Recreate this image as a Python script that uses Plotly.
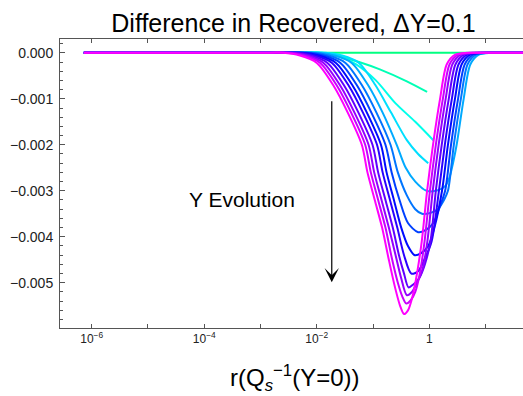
import colorsys
import plotly.graph_objects as go

# x values are log10 of r in units of Qs^-1(Y=0); y values are the differences.
# curve z: the trivially vanishing first step
z_logr = [-6.14, 1.7]
z_val = [0.0, 0.0]

c0_logr = [-6.14, -2.4, -2.0, -1.6, -1.25, -0.88, -0.40, -0.04]
c0_val = [0, 0, 0, -0.00008, -0.0002, -0.00036, -0.00062, -0.00085]

c1_logr = [-6.14, -2.3, -1.9, -1.6, -1.3, -0.95, -0.6, -0.25, 0.07]
c1_val = [0, 0, 0, -0.00008, -0.00025, -0.0006, -0.0011, -0.0015, -0.0019]

c2_logr = [-6.14, -2.25, -1.85, -1.55, -1.25, -0.96, -0.68, -0.40, -0.20, -0.02]
c2_val = [0, 0, 0, -0.00006, -0.00022, -0.0007, -0.0013, -0.0019, -0.0022, -0.0024]

c3_logr = [-6.14, -2.38, -1.98, -1.68, -1.38, -1.09, -0.83, -0.58, -0.42, -0.25, -0.05,
           0.15, 0.28, 0.36, 0.42, 0.485, 0.61, 0.73, 0.88, 1.09, 1.4, 1.7]
c3_val = [0, 0, 0, -0.00006, -0.00022, -0.0007, -0.0013, -0.0020, -0.0025, -0.0028, -0.0030,
          -0.00299, -0.0029, -0.0027, -0.0024, -0.0020, -0.0010, -0.00025, -0.00004, 0, 0, 0]

c4_logr = [-6.14, -2.49, -2.09, -1.79, -1.49, -1.20, -0.94, -0.69, -0.56, -0.40, -0.25, -0.13,
           0.02, 0.15, 0.26, 0.33, 0.435, 0.56, 0.68, 0.83, 1.04, 1.35, 1.7]
c4_val = [0, 0, 0, -0.00006, -0.00022, -0.0007, -0.0013, -0.0020, -0.0026, -0.0031, -0.0034, -0.0035,
          -0.00348, -0.0034, -0.0032, -0.0030, -0.0020, -0.0010, -0.00025, -0.00004, 0, 0, 0]

c5_logr = [-6.14, -2.58, -2.18, -1.88, -1.58, -1.29, -1.03, -0.78, -0.67, -0.53, -0.38, -0.20,
           -0.06, 0.07, 0.17, 0.28, 0.385, 0.51, 0.63, 0.78, 0.99, 1.3, 1.7]
c5_val = [0, 0, 0, -0.00006, -0.00022, -0.0007, -0.0013, -0.0020, -0.0026, -0.0032, -0.0037, -0.0039,
          -0.00385, -0.0037, -0.0034, -0.0030, -0.0020, -0.0010, -0.00025, -0.00004, 0, 0, 0]

c6_logr = [-6.14, -2.66, -2.26, -1.96, -1.66, -1.37, -1.11, -0.86, -0.76, -0.63, -0.50, -0.38, -0.26,
           -0.14, -0.02, 0.09, 0.225, 0.33, 0.455, 0.575, 0.725, 0.935, 1.25, 1.7]
c6_val = [0, 0, 0, -0.00006, -0.00022, -0.0007, -0.0013, -0.0020, -0.0026, -0.0032, -0.0038, -0.0042, -0.0044,
          -0.00435, -0.0042, -0.0038, -0.0030, -0.0020, -0.0010, -0.00025, -0.00004, 0, 0, 0]

c7_logr = [-6.14, -2.73, -2.33, -2.03, -1.73, -1.44, -1.18, -0.93, -0.83, -0.70, -0.57, -0.45, -0.32,
           -0.20, -0.09, 0.04, 0.17, 0.275, 0.40, 0.52, 0.67, 0.88, 1.2, 1.7]
c7_val = [0, 0, 0, -0.00006, -0.00022, -0.0007, -0.0013, -0.0020, -0.0026, -0.0032, -0.0038, -0.0044, -0.0048,
          -0.00475, -0.0045, -0.0041, -0.0030, -0.0020, -0.0010, -0.00025, -0.00004, 0, 0, 0]

c8_logr = [-6.14, -2.81, -2.41, -2.11, -1.81, -1.52, -1.26, -1.01, -0.91, -0.78, -0.65, -0.54, -0.45, -0.37,
           -0.28, -0.18, -0.08, 0.02, 0.115, 0.22, 0.345, 0.465, 0.615, 0.825, 1.15, 1.7]
c8_val = [0, 0, 0, -0.00006, -0.00022, -0.0007, -0.0013, -0.0020, -0.0026, -0.0032, -0.0038, -0.0044, -0.0048, -0.0051,
          -0.00503, -0.0049, -0.0046, -0.0041, -0.0030, -0.0020, -0.0010, -0.00025, -0.00004, 0, 0, 0]

c9_logr = [-6.14, -2.88, -2.48, -2.18, -1.88, -1.59, -1.33, -1.08, -0.98, -0.85, -0.72, -0.60, -0.50, -0.40,
           -0.31, -0.22, -0.12, -0.035, 0.06, 0.165, 0.29, 0.41, 0.56, 0.77, 1.1, 1.7]
c9_val = [0, 0, 0, -0.00006, -0.00022, -0.0007, -0.0013, -0.0020, -0.0026, -0.0032, -0.0038, -0.0044, -0.0049, -0.00527,
          -0.0052, -0.0050, -0.0047, -0.0041, -0.0030, -0.0020, -0.0010, -0.00025, -0.00004, 0, 0, 0]

c10_logr = [-6.14, -2.94, -2.54, -2.24, -1.94, -1.65, -1.39, -1.14, -1.04, -0.91, -0.78, -0.66, -0.56, -0.48, -0.41,
            -0.33, -0.25, -0.17, -0.085, 0.01, 0.115, 0.24, 0.36, 0.51, 0.72, 1.05, 1.7]
c10_val = [0, 0, 0, -0.00006, -0.00022, -0.0007, -0.0013, -0.0020, -0.0026, -0.0032, -0.0038, -0.0045, -0.0050, -0.0053, -0.00545,
           -0.00538, -0.0052, -0.0048, -0.0041, -0.0030, -0.0020, -0.0010, -0.00025, -0.00004, 0, 0, 0]

c11_logr = [-6.14, -3.0, -2.6, -2.3, -2.0, -1.71, -1.45, -1.20, -1.10, -0.97, -0.84, -0.72, -0.61, -0.52, -0.45,
            -0.38, -0.30, -0.22, -0.135, -0.04, 0.065, 0.19, 0.31, 0.46, 0.67, 1.0, 1.7]
c11_val = [0, 0, 0, -0.00006, -0.00022, -0.0007, -0.0013, -0.0020, -0.0026, -0.0032, -0.0038, -0.0045, -0.0051, -0.0055, -0.00568,
           -0.0056, -0.0053, -0.0048, -0.0041, -0.0030, -0.0020, -0.0010, -0.00025, -0.00004, 0, 0, 0]

curves = [
    (z_logr, z_val), (c0_logr, c0_val), (c1_logr, c1_val), (c2_logr, c2_val),
    (c3_logr, c3_val), (c4_logr, c4_val), (c5_logr, c5_val), (c6_logr, c6_val),
    (c7_logr, c7_val), (c8_logr, c8_val), (c9_logr, c9_val), (c10_logr, c10_val),
    (c11_logr, c11_val),
]

# hue runs from spring green to magenta as Y grows
hue_start, hue_end = 150.0, 300.0

x_tick_vals = [1e-6, 1e-4, 1e-2, 1]
x_tick_text = ["10<sup>\u22126</sup>", "10<sup>\u22124</sup>", "10<sup>\u22122</sup>", "1"]
x_minor_vals = [1e-5, 1e-3, 1e-1, 10]

FONT = "Liberation Sans, Arial, sans-serif"

fig = go.Figure()
n = len(curves)
for i, (lr, v) in enumerate(curves):
    h = hue_start + (hue_end - hue_start) * i / (n - 1)
    r, g, b = colorsys.hsv_to_rgb(h / 360.0, 1.0, 1.0)
    color = f"rgb({int(round(r*255))},{int(round(g*255))},{int(round(b*255))})"
    fig.add_trace(go.Scatter(
        x=[10 ** a for a in lr], y=v, mode="lines",
        line=dict(color=color, width=2, shape="spline", smoothing=0.8),
        hoverinfo="skip", showlegend=False,
    ))

axis_color = "#555555"
fig.update_layout(
    width=523, height=396,
    margin=dict(l=60, r=0, t=39, b=68),
    paper_bgcolor="white", plot_bgcolor="white",
    font=dict(family=FONT, color="#222222"),
    title=dict(text="Difference in Recovered, \u0394Y=0.1", x=293.5 / 523, xanchor="center",
               y=1 - 23 / 396, yanchor="middle", font=dict(size=25, color="black", family=FONT)),
    xaxis=dict(type="log", range=[-6.563, 1.664], showline=True, linecolor=axis_color, linewidth=1,
               mirror="ticks", ticks="inside", ticklen=4, tickcolor=axis_color,
               tickvals=x_tick_vals, ticktext=x_tick_text, tickfont=dict(size=12),
               minor=dict(tickvals=x_minor_vals, ticks="inside", ticklen=4, tickcolor=axis_color),
               showgrid=False, zeroline=False),
    yaxis=dict(range=[-0.005983, 0.0003], showline=True, linecolor=axis_color, linewidth=1,
               mirror=False, ticks="inside", ticklen=5, tickcolor=axis_color,
               tick0=0, dtick=0.001, tickformat=".3f", tickfont=dict(size=14),
               minor=dict(dtick=0.0002, ticks="inside", ticklen=3, tickcolor=axis_color),
               showgrid=False, zeroline=False, ticklabelstandoff=3),
    annotations=[
        dict(text="r(Q<sub><i>s</i></sub><sup>\u22121</sup>(Y=0))", xref="paper", yref="paper",
             x=(295 - 60) / 463, y=(328 - 378) / 289, xanchor="center", yanchor="middle",
             showarrow=False, font=dict(size=24, color="black", family=FONT)),
        dict(text="Y Evolution", x=-3.336, y=-0.00319, xref="x", yref="y",
             showarrow=False, font=dict(size=21, color="black", family=FONT)),
        dict(text="", x=-1.734, y=-0.00499, ax=-1.734, ay=-0.00102, xref="x", yref="y",
             axref="x", ayref="y", showarrow=True, arrowhead=3, arrowsize=2,
             arrowwidth=1.2, arrowcolor="black", standoff=0),
    ],
)

fig.write_html("out.html")
